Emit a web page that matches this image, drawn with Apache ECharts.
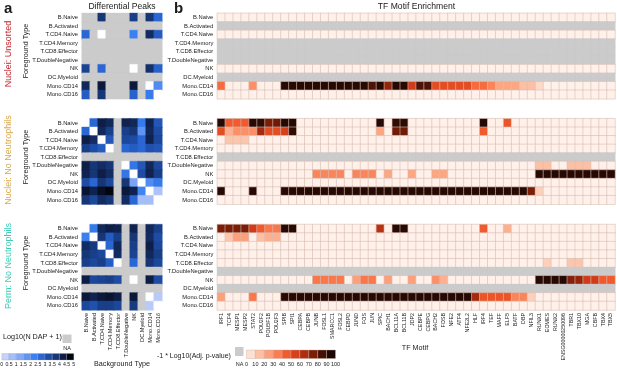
<!DOCTYPE html>
<html>
<head>
<meta charset="utf-8">
<script src="https://cdn.jsdelivr.net/npm/echarts@6/dist/echarts.min.js"></script>
<style>
html, body { margin: 0; padding: 0; background: #fff; }
#chart { width: 617px; height: 370px; }
</style>
</head>
<body>
<div id="chart"></div>
<script>
var cell_types = ['B.Naive', 'B.Activated', 'T.CD4.Naive', 'T.CD4.Memory', 'T.CD8.Effector',
    'T.DoubleNegative', 'NK', 'DC.Myeloid', 'Mono.CD14', 'Mono.CD16'];

var motifs = ['IRF1', 'TCF4', 'MESP1', 'MESP2', 'STAT2', 'POU2F2', 'POU5F1B', 'POU2F3', 'SPIB', 'SPI1',
    'CEBPA', 'CEBPB', 'JUNB', 'FOSL1', 'SMARCC1', 'FOSL2', 'CEBPD', 'JUND', 'FOS', 'JUN',
    'SPIC', 'BACH1', 'BCL11A', 'BCL11B', 'JDP2', 'CEBPE', 'CEBPG', 'BACH2', 'FOSB', 'NFE2',
    'ATF4', 'NFE2L2', 'HLF', 'IRF4', 'TEF', 'MAFF', 'ELF5', 'BATF', 'DBP', 'NFIL3',
    'RUNX1', 'EOMES', 'RUNX2', 'ENSG00000250096', 'TBR1', 'TBX10', 'MGA', 'CBFB', 'TBX4', 'TBX5'];

var group_names = ['Nuclei: Unsorted', 'Nuclei: No Neutrophils', 'Perm: No Neutrophils'];
var group_colors = ['#c1272d', '#d9a84c', '#3ccbb5'];

// panel a: Log10(N DAP + 1), rows = foreground, cols = background, null = NA
var dap_unsorted = [
    [null, null, 4.0, null, null, null, 3.8, null, 4.0, 3.0],
    null,
    [3.0, null, 0, null, null, null, 2.5, null, 4.2, 3.2],
    null,
    null,
    null,
    [3.7, null, 3.0, null, null, null, 0, null, 4.1, 3.1],
    null,
    [4.3, null, 4.6, null, null, null, 4.6, null, 0, 2.2],
    [3.2, null, 4.0, null, null, null, 3.1, null, 2.6, 0]
];
var dap_noneut = [
    [0, 3.0, 4.5, 4.3, null, 4.4, 4.3, 2.6, 4.4, 3.3],
    [3.0, 0, 4.3, 3.8, null, 3.8, 4.0, 2.0, 4.3, 3.5],
    [4.5, 4.2, 0, 3.3, null, 3.6, 3.5, 3.0, 4.4, 3.6],
    [3.8, 3.5, 3.2, 0, null, 3.0, 3.2, 3.0, 3.4, 3.3],
    null,
    [4.5, 4.0, 4.2, 4.0, null, 0, 2.7, 3.3, 4.3, 3.6],
    [4.4, 4.0, 4.5, 4.2, null, 2.7, 0, 3.5, 4.4, 3.8],
    [3.5, 3.0, 4.0, 3.6, null, 4.0, 1.6, 0, 2.2, 2.6],
    [4.7, 4.4, 4.8, 5.0, null, 4.6, 4.4, 2.4, 0, 0.9],
    [4.0, 3.6, 4.2, 4.0, null, 4.2, 3.0, 1.0, 1.0, 0]
];
var dap_perm = [
    [0, 2.6, 4.3, 4.5, 4.4, null, 4.4, null, 4.3, 3.8],
    [2.5, 0, 4.0, 3.2, 3.8, null, 4.0, null, 4.2, 3.5],
    [4.2, 3.9, 0, 3.0, 4.3, null, 3.8, null, 4.5, 3.6],
    [4.0, 3.8, 3.6, 0, 4.2, null, 3.7, null, 4.3, 3.8],
    [3.8, 3.6, 3.8, 3.2, 0, null, 3.0, null, 4.0, 3.6],
    null,
    [4.5, 3.6, 3.7, 3.8, 3.5, null, 0, null, 4.5, 3.5],
    null,
    [4.6, 4.4, 4.6, 4.7, 4.5, null, 4.6, null, 0, 0.7],
    [3.6, 3.4, 3.8, 3.8, 3.6, null, 3.9, null, 0.7, 0]
];

// panel b: -1 * Log10(adj. p), one row per foreground type; null = NA, 0 = all zero
var tf_unsorted = [
    0, null, 0, null, null, null, 0, null,
    [45, 0, 0, 0, 35, 0, 0, 0, 97, 97,  97, 97, 97, 97, 97, 97, 97, 97, 97, 88,
     97, 75, 97, 97, 62, 88, 88, 55, 55, 55,  55, 55, 45, 45, 38, 28, 28, 28, 20, 20,
     12, 0, 0, 0, 0, 0, 0, 0, 0, 0],
    0
];
var tf_noneut = [
    [97, 50, 50, 50, 97, 95, 80, 82, 97, 97,  0, 0, 0, 0, 0, 0, 0, 0, 0, 0,
     97, 0, 95, 95, 0, 0, 0, 0, 0, 0,  0, 0, 0, 97, 0, 0, 52, 0, 0, 0,
     0, 0, 0, 0, 0, 0, 0, 0, 0, 0],
    [55, 25, 35, 35, 35, 72, 55, 55, 60, 95,  0, 0, 0, 0, 0, 0, 0, 0, 0, 0,
     28, 0, 82, 82, 0, 0, 0, 0, 0, 0,  0, 0, 0, 50, 0, 0, 0, 0, 0, 0,
     0, 0, 0, 0, 0, 0, 0, 0, 0, 0],
    [0, 18, 18, 18, 0, 0, 0, 0, 0, 0,  0, 0, 0, 0, 0, 0, 0, 0, 0, 0,
     0, 0, 0, 0, 0, 0, 0, 0, 0, 0,  0, 0, 0, 0, 0, 0, 0, 0, 0, 0,
     0, 0, 0, 0, 0, 0, 0, 0, 0, 0],
    0,
    null,
    [0, 0, 0, 0, 0, 0, 0, 0, 0, 0,  0, 0, 0, 0, 0, 0, 0, 0, 0, 0,
     0, 0, 0, 0, 0, 0, 0, 0, 0, 0,  0, 0, 0, 0, 0, 0, 0, 0, 0, 0,
     20, 20, 0, 0, 20, 20, 20, 0, 0, 0],
    [0, 0, 0, 0, 0, 0, 0, 0, 0, 0,  0, 0, 38, 38, 38, 38, 0, 38, 38, 38,
     0, 28, 0, 0, 28, 0, 0, 28, 28, 0,  0, 0, 0, 0, 0, 0, 0, 0, 0, 0,
     97, 97, 97, 97, 97, 97, 97, 97, 97, 97],
    0,
    [97, 0, 0, 0, 97, 0, 0, 0, 97, 97,  97, 97, 97, 97, 97, 97, 97, 97, 97, 97,
     97, 97, 97, 97, 97, 97, 97, 97, 97, 97,  97, 97, 97, 97, 97, 97, 97, 97, 97, 80,
     15, 0, 0, 0, 0, 0, 0, 0, 0, 0],
    0
];
var tf_perm = [
    [80, 80, 80, 80, 62, 50, 42, 42, 97, 97,  0, 0, 0, 0, 0, 0, 0, 0, 0, 0,
     68, 0, 97, 97, 0, 0, 0, 0, 0, 0,  0, 0, 0, 50, 0, 0, 25, 0, 0, 0,
     0, 0, 0, 0, 0, 0, 0, 0, 0, 0],
    [0, 18, 30, 30, 0, 20, 25, 25, 0, 0,  0, 0, 0, 0, 0, 0, 0, 0, 0, 0,
     0, 0, 0, 0, 0, 0, 0, 0, 0, 0,  0, 0, 0, 0, 0, 0, 0, 0, 0, 0,
     0, 0, 0, 0, 0, 0, 0, 0, 0, 0],
    0,
    0,
    [0, 0, 0, 0, 0, 0, 0, 0, 0, 0,  0, 0, 0, 0, 0, 0, 0, 0, 0, 0,
     0, 0, 0, 0, 0, 0, 0, 0, 0, 0,  0, 0, 0, 0, 0, 0, 0, 0, 0, 0,
     0, 15, 0, 0, 18, 18, 0, 0, 0, 0],
    null,
    [0, 0, 0, 0, 0, 0, 0, 0, 0, 0,  0, 0, 42, 42, 42, 42, 0, 30, 42, 42,
     0, 30, 0, 0, 30, 0, 0, 35, 25, 0,  0, 0, 0, 0, 0, 0, 0, 0, 0, 0,
     97, 97, 97, 97, 78, 75, 62, 62, 50, 50],
    null,
    [30, 0, 0, 0, 42, 0, 0, 0, 97, 97,  97, 97, 97, 97, 97, 97, 97, 97, 97, 97,
     97, 97, 97, 97, 97, 97, 97, 97, 97, 97,  97, 97, 72, 52, 52, 52, 52, 38, 38, 15,
     0, 0, 0, 0, 0, 0, 0, 0, 0, 0],
    0
];

var a_ticks = ['0', '0.5', '1', '1.5', '2', '2.5', '3', '3.5', '4', '4.5', '5'];
var b_ticks = ['0', '10', '20', '30', '40', '50', '60', '70', '80', '90', '100'];

var a_stops = ['#ffffff', '#c6d2f8', '#a6bef8', '#84a8f6', '#5e94f4', '#3a80f0',
    '#2a66d4', '#1e4ca4', '#163676', '#0e1e46', '#04060e'];
var b_stops = ['#fff1ea', '#fee0d2', '#fcc0a4', '#fc9f7a', '#fb7e52', '#f05a2c',
    '#d8401a', '#b02e10', '#7a1e08', '#421004', '#1a0602'];
var na_grey = '#cbcbcb';
var font = 'Liberation Sans, Arial, sans-serif';

function a_items(rows) {
    var out = [];
    rows.forEach(function (r, y) {
        for (var x = 0; x < cell_types.length; x++) {
            var v = r ? r[x] : null;
            var c = v == null ? na_grey : echarts.color.lerp(v / 5, a_stops);
            // NA cells carry -1 only so the heatmap still draws a grey cell
            out.push({value: [x, y, v == null ? -1 : v],
                itemStyle: {color: c, borderColor: c, borderWidth: 0.4}});
        }
    });
    return out;
}

function b_items(rows) {
    var out = [];
    rows.forEach(function (r, y) {
        for (var x = 0; x < motifs.length; x++) {
            if (r === null) {
                out.push({value: [x, y, -1],
                    itemStyle: {color: na_grey, borderColor: na_grey, borderWidth: 0.4}});
            } else {
                var v = r === 0 ? 0 : r[x];
                out.push({value: [x, y, v],
                    itemStyle: {color: echarts.color.lerp(v / 100, b_stops),
                        borderColor: '#d8bdb3', borderWidth: 0.6}});
            }
        }
    });
    return out;
}

var tops = [13.3, 118.7, 224.5];
var grid_h = 85.5;
var grids = [], xAxes = [], yAxes = [], series = [];
var a_data = [dap_unsorted, dap_noneut, dap_perm];
var b_data = [tf_unsorted, tf_noneut, tf_perm];

for (var g = 0; g < 6; g++) {
    var is_a = g < 3;
    var k = g % 3;
    grids.push({
        left: is_a ? 82 : 217.3,
        width: is_a ? 80 : 397.7,
        top: tops[k],
        height: grid_h
    });
    xAxes.push({
        type: 'category',
        gridIndex: g,
        data: is_a ? cell_types : motifs,
        axisLine: {show: false},
        axisTick: {show: false},
        splitLine: {show: false},
        axisLabel: {
            show: k == 2,
            rotate: 90,
            interval: 0,
            margin: 3,
            fontSize: is_a ? 5.6 : 5.3,
            fontFamily: font,
            color: '#1a1a1a'
        }
    });
    yAxes.push({
        type: 'category',
        gridIndex: g,
        data: cell_types,
        inverse: true,
        axisLine: {show: false},
        axisTick: {show: false},
        splitLine: {show: false},
        axisLabel: {
            interval: 0,
            margin: 4,
            fontSize: 5.8,
            fontFamily: font,
            color: '#1a1a1a'
        }
    });
    series.push({
        type: 'heatmap',
        xAxisIndex: g,
        yAxisIndex: g,
        data: is_a ? a_items(a_data[k]) : b_items(b_data[k]),
        emphasis: {disabled: true},
        progressive: 0
    });
}

function txt(x, y, s, size, opts) {
    opts = opts || {};
    return {
        type: 'text',
        x: x,
        y: y,
        rotation: opts.rot ? Math.PI / 2 : 0,
        silent: true,
        style: {
            text: s,
            font: (opts.bold ? 'bold ' : '') + size + 'px ' + font,
            fill: opts.color || '#1a1a1a',
            textAlign: opts.align || 'center',
            align: opts.align || 'center',
            textVerticalAlign: 'middle',
            verticalAlign: 'middle'
        }
    };
}

var graphics = [
    txt(4, 9, 'a', 15, {bold: true, align: 'left'}),
    txt(174, 9, 'b', 15, {bold: true, align: 'left'}),
    txt(122, 6.5, 'Differential Peaks', 8.6),
    txt(416.5, 6.5, 'TF Motif Enrichment', 8.6),
    txt(122, 364, 'Background Type', 7.2),
    txt(415, 348, 'TF Motif', 7.2),
    txt(3, 337, 'Log10(N DAP + 1)', 7.2, {align: 'left'}),
    txt(67, 348.5, 'NA', 5.5),
    txt(157, 356, '-1 * Log10(Adj. p-value)', 7, {align: 'left'}),
    txt(239.5, 364, 'NA', 5.5)
];
var group_y = [54, 160, 266];
for (var i = 0; i < 3; i++) {
    graphics.push(txt(9, group_y[i], group_names[i], 9, {rot: true, color: group_colors[i]}));
    graphics.push(txt(26.5, group_y[i] - 3, 'Foreground Type', 7.2, {rot: true}));
}
// legend boxes, each shows the colour at its upper bound
graphics.push({type: 'rect', shape: {x: 62.5, y: 334.5, width: 9, height: 8.5}, style: {fill: na_grey}});
graphics.push({type: 'rect', shape: {x: 235, y: 347, width: 8.5, height: 9}, style: {fill: na_grey}});
for (var j = 0; j < 10; j++) {
    graphics.push({type: 'rect', shape: {x: 1.8 + j * 7.2, y: 353.5, width: 7.2, height: 6.5},
        style: {fill: a_stops[j + 1], stroke: '#9aa0b8', lineWidth: 0.3}});
    graphics.push({type: 'rect', shape: {x: 246.5 + j * 8.9, y: 350, width: 8.9, height: 8.5},
        style: {fill: b_stops[j + 1], stroke: '#c9a99e', lineWidth: 0.4}});
}
for (var j = 0; j < 11; j++) {
    graphics.push(txt(1.8 + j * 7.2, 365, a_ticks[j], 5.2));
    graphics.push(txt(246.5 + j * 8.9, 364, b_ticks[j], 5.5));
}

var myChart = echarts.init(document.getElementById('chart'), null, {renderer: 'canvas'});
myChart.setOption({
    animation: false,
    backgroundColor: '#ffffff',
    textStyle: {fontFamily: font},
    grid: grids,
    xAxis: xAxes,
    yAxis: yAxes,
    series: series,
    graphic: graphics
});
</script>
</body>
</html>
